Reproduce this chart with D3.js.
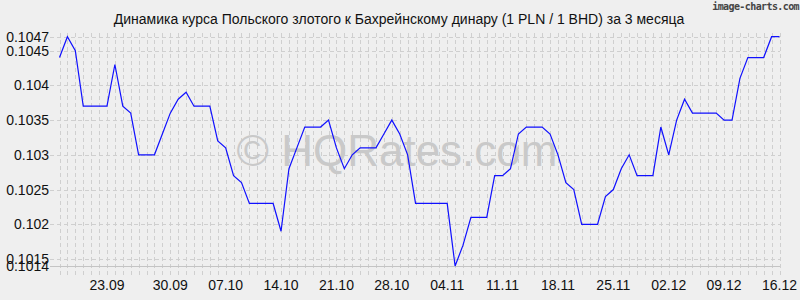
<!DOCTYPE html>
<html><head><meta charset="utf-8">
<script src="https://cdn.jsdelivr.net/npm/d3@7"></script>
<style>html,body{margin:0;padding:0;background:#efefef;}svg{display:block;}</style>
</head><body>
<script>
// Rates ×1 (PLN per BHD), daily points
const rates = [0.1044,0.1047,0.1045,0.1037,0.1037,0.1037,0.1037,0.1043,0.1037,0.1036,
0.1030,0.1030,0.1030,0.1033,0.1036,0.1038,0.1039,0.1037,0.1037,0.1037,
0.1032,0.1031,0.1027,0.1026,0.1023,0.1023,0.1023,0.1023,0.1019,0.1028,
0.1031,0.1034,0.1034,0.1034,0.1035,0.1031,0.1028,0.1030,0.1031,0.1031,
0.1031,0.1033,0.1035,0.1033,0.1030,0.1023,0.1023,0.1023,0.1023,0.1023,
0.1014,0.1017,0.1021,0.1021,0.1021,0.1027,0.1027,0.1028,0.1033,0.1034,
0.1034,0.1034,0.1033,0.1030,0.1026,0.1025,0.1020,0.1020,0.1020,0.1024,
0.1025,0.1028,0.1030,0.1027,0.1027,0.1027,0.1034,0.1030,0.1035,0.1038,
0.1036,0.1036,0.1036,0.1036,0.1035,0.1035,0.1041,0.1044,0.1044,0.1044,
0.1047,0.1047];
const xTickLabels = ["23.09","30.09","07.10","14.10","21.10","28.10","04.11","11.11","18.11","25.11","02.12","09.12","16.12"];
const xTickIndex  = [6,14,21,28,35,42,49,56,63,70,77,84,91];
const yTickValues = [0.1014,0.1015,0.102,0.1025,0.103,0.1035,0.104,0.1045,0.1047];
const yTickLabels = ["0.1014","0.1015","0.102","0.1025","0.103","0.1035","0.104","0.1045","0.1047"];
const title = "Динамика курса Польского злотого к Бахрейнскому динару (1 PLN / 1 BHD) за 3 месяца";

const W = 800, H = 300;
const svg = d3.select("body").append("svg").attr("width", W).attr("height", H)
  .style("font-family", "'Liberation Sans', Arial, sans-serif");
svg.append("rect").attr("width", W).attr("height", H).attr("fill", "#efefef");

const x = d3.scaleLinear().domain([0, rates.length - 1]).range([59.5, 779.5]);
const y = d3.scaleLinear().domain([0.1014, 0.1047]).range([266, 36.7]);

const grid = svg.append("g").attr("stroke", "#cfcfcf").attr("stroke-width", 1).attr("fill", "none");
// vertical grid at each point
grid.selectAll("line.v").data(d3.range(rates.length)).join("line")
  .attr("x1", d => Math.round(x(d)) + 0.5).attr("x2", d => Math.round(x(d)) + 0.5)
  .attr("y1", 33).attr("y2", 276)
  .attr("stroke-dasharray", "4,3");
// horizontal grid at y ticks
grid.selectAll("line.h").data(yTickValues).join("line")
  .attr("x1", 50).attr("x2", 780)
  .attr("y1", d => Math.round(y(d)) + 0.5).attr("y2", d => Math.round(y(d)) + 0.5)
  .attr("stroke-dasharray", "4,3");
// bottom axis line
svg.append("line").attr("x1", 50).attr("x2", 780).attr("y1", 266.5).attr("y2", 266.5)
  .attr("stroke", "#c4c4c4");

// watermark
svg.append("text").attr("x", 397).attr("y", 166).attr("text-anchor", "middle")
  .attr("font-size", 44).attr("fill", "#c9c9c9")
  .text("© HQRates.com");

// line
const line = d3.line().x((d, i) => x(i)).y(d => y(d));
svg.append("path").datum(rates).attr("d", line)
  .attr("fill", "none").attr("stroke", "#1010ff").attr("stroke-width", 1.2)
  .attr("stroke-linejoin", "miter");

// y labels
svg.append("g").selectAll("text").data(yTickValues).join("text")
  .attr("x", 49).attr("y", d => y(d)).attr("dy", "0.36em")
  .attr("text-anchor", "end").attr("font-size", 14).attr("fill", "#111")
  .text((d, i) => yTickLabels[i]);

// x labels
svg.append("g").selectAll("text").data(xTickIndex).join("text")
  .attr("x", d => x(d)).attr("y", 290)
  .attr("text-anchor", "middle").attr("font-size", 14).attr("fill", "#111")
  .text((d, i) => xTickLabels[i]);

// title
svg.append("text").attr("x", 399).attr("y", 24).attr("text-anchor", "middle")
  .attr("font-size", 14).attr("fill", "#111").text(title);

// image-charts mark
svg.append("text").attr("x", 799).attr("y", 10).attr("text-anchor", "end")
  .attr("font-size", 10).attr("font-weight", "bold").attr("fill", "#444")
  .attr("font-family", "'DejaVu Sans Mono', monospace").attr("letter-spacing", -0.6)
  .text("image-charts.com");
</script>
</body></html>
